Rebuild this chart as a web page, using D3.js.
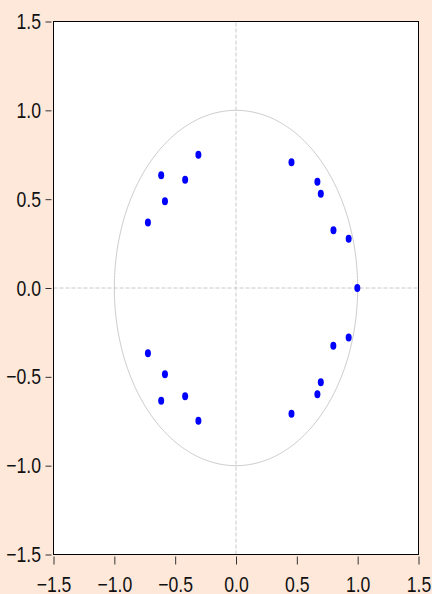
<!DOCTYPE html>
<html>
<head>
<meta charset="utf-8">
<script src="https://cdn.jsdelivr.net/npm/d3@7"></script>
<style>
  body { margin: 0; background: #fde8da; }
  svg { display: block; }
</style>
</head>
<body>
<div id="roots_chart"></div>
<script>
var width = 432, height = 594;

// inverse roots
let realParts = [-0.309, -0.615, -0.418, -0.584, -0.724,
                 0.456, 0.669, 0.697, 0.801, 0.926,
                 0.997,
                 0.926, 0.800, 0.697, 0.669, 0.456,
                 -0.724, -0.584, -0.418, -0.615, -0.309];
let imagParts = [0.750, 0.635, 0.609, 0.488, 0.369,
                 0.708, 0.598, 0.530, 0.325, 0.277,
                 0.000,
                 -0.279, -0.325, -0.530, -0.598, -0.708,
                 -0.367, -0.485, -0.609, -0.635, -0.747];
let tickValues = [-1.5, -1.0, -0.5, 0.0, 0.5, 1.0, 1.5];

var svg = d3.select("#roots_chart")
      .append("svg")
      .attr("width", width)
      .attr("height", height);

let x = d3.scaleLinear()
      .domain([-1.5, 1.5])
      .range([53.5, 418.5]);

let y = d3.scaleLinear()
      .domain([-1.5, 1.5])
      .range([554.5, 21.5]);

// plot area
svg.append("rect")
      .attr("x", x(-1.5))
      .attr("y", y(1.5))
      .attr("width", x(1.5) - x(-1.5))
      .attr("height", y(-1.5) - y(1.5))
      .attr("fill", "white");

// zero lines
svg.append("line")
      .attr("x1", x(-1.5)).attr("x2", x(1.5))
      .attr("y1", y(0)).attr("y2", y(0))
      .attr("stroke", "#c8c8c8")
      .attr("stroke-dasharray", "4,2");
svg.append("line")
      .attr("x1", x(0)).attr("x2", x(0))
      .attr("y1", y(-1.5)).attr("y2", y(1.5))
      .attr("stroke", "#c8c8c8")
      .attr("stroke-dasharray", "4,2");

// unit circle
svg.append("path")
      .datum(d3.range(0, 361))
      .attr("fill", "none")
      .attr("stroke", "#cccccc")
      .attr("stroke-width", 1)
      .attr("d", d3.line()
            .x(a => x(Math.cos(a * Math.PI / 180)))
            .y(a => y(Math.sin(a * Math.PI / 180)))
      );

// roots
svg.selectAll(".root")
      .data(realParts)
      .enter()
      .append("ellipse")
      .attr("cx", (d, i) => x(d))
      .attr("cy", (d, i) => y(imagParts[i]))
      .attr("rx", 3)
      .attr("ry", 4)
      .attr("fill", "#0000ff");

// frame
svg.append("rect")
      .attr("x", x(-1.5))
      .attr("y", y(1.5))
      .attr("width", x(1.5) - x(-1.5))
      .attr("height", y(-1.5) - y(1.5))
      .attr("fill", "none")
      .attr("stroke", "black")
      .attr("stroke-width", 1);

let fmt = d3.format(".1f");
let squeeze = 0.8; // labels are condensed in the original

// X axis
let xAxis = svg.append("g")
      .attr("transform", `translate(0,${y(-1.5) + 2})`)
      .call(d3.axisBottom(x).tickValues(tickValues).tickFormat(fmt).tickSize(8).tickPadding(12));

// Y axis
let yAxis = svg.append("g")
      .attr("transform", `translate(${x(-1.5) - 2},0)`)
      .call(d3.axisLeft(y).tickValues(tickValues).tickFormat(fmt).tickSize(6).tickPadding(3));

[xAxis, yAxis].forEach(g => {
      g.select(".domain").remove();
      g.selectAll("line").attr("stroke", "#333");
      g.selectAll("text")
            .attr("fill", "#111")
            .attr("transform", `scale(${squeeze},1)`)
            .style("font-family", "'Liberation Sans', Arial, sans-serif")
            .style("font-size", "22px");
});
yAxis.selectAll("text").attr("x", -10.5 / squeeze);
</script>
</body>
</html>
